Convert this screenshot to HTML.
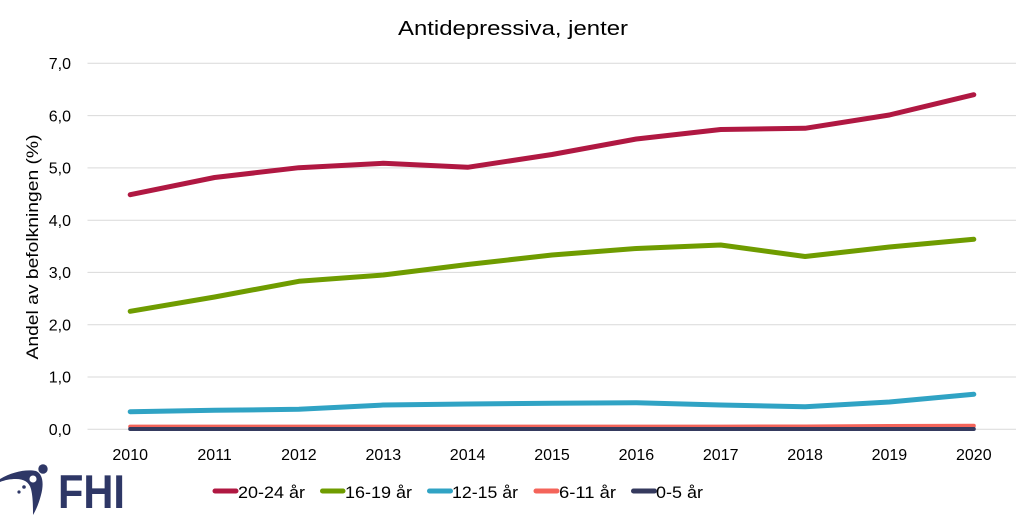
<!DOCTYPE html>
<html>
<head>
<meta charset="utf-8">
<style>
  html, body { margin:0; padding:0; background:#ffffff; }
  svg { display:block; }
  text { font-family: "Liberation Sans", "DejaVu Sans", sans-serif; fill:#000; }
</style>
</head>
<body>
<svg width="1032" height="519" viewBox="0 0 1032 519" xmlns="http://www.w3.org/2000/svg">
  <rect x="0" y="0" width="1032" height="519" fill="#ffffff"/>

  <!-- Title -->
  <text x="513" y="35" font-size="20" text-anchor="middle" textLength="230" lengthAdjust="spacingAndGlyphs">Antidepressiva, jenter</text>

  <!-- Gridlines -->
  <g stroke="#d9d9d9" stroke-width="1">
    <line x1="87.5" y1="63.3" x2="1016" y2="63.3"/>
    <line x1="87.5" y1="115.6" x2="1016" y2="115.6"/>
    <line x1="87.5" y1="167.9" x2="1016" y2="167.9"/>
    <line x1="87.5" y1="220.2" x2="1016" y2="220.2"/>
    <line x1="87.5" y1="272.4" x2="1016" y2="272.4"/>
    <line x1="87.5" y1="324.7" x2="1016" y2="324.7"/>
    <line x1="87.5" y1="377.0" x2="1016" y2="377.0"/>
    <line x1="87.5" y1="429.3" x2="1016" y2="429.3"/>
  </g>

  <!-- Y tick labels -->
  <g font-size="16" text-anchor="end">
    <text x="71" y="69">7,0</text>
    <text x="71" y="121.3">6,0</text>
    <text x="71" y="173.6">5,0</text>
    <text x="71" y="225.9">4,0</text>
    <text x="71" y="278.1">3,0</text>
    <text x="71" y="330.4">2,0</text>
    <text x="71" y="382.7">1,0</text>
    <text x="71" y="435">0,0</text>
  </g>

  <!-- Y axis title -->
  <text transform="translate(38,247) rotate(-90)" font-size="17" text-anchor="middle" textLength="225" lengthAdjust="spacingAndGlyphs">Andel av befolkningen (%)</text>

  <!-- X tick labels -->
  <g font-size="16" text-anchor="middle">
    <text x="130.2" y="460">2010</text>
    <text x="214.6" y="460">2011</text>
    <text x="298.9" y="460">2012</text>
    <text x="383.3" y="460">2013</text>
    <text x="467.6" y="460">2014</text>
    <text x="552.0" y="460">2015</text>
    <text x="636.4" y="460">2016</text>
    <text x="720.7" y="460">2017</text>
    <text x="805.1" y="460">2018</text>
    <text x="889.4" y="460">2019</text>
    <text x="973.8" y="460">2020</text>
  </g>

  <!-- Series -->
  <g fill="none" stroke-linecap="round" stroke-linejoin="round">
    <!-- 6-11 år -->
    <polyline stroke="#F4645A" stroke-width="4"
      points="130.2,426.6 214.6,426.6 298.9,426.6 383.3,426.6 467.6,426.6 552.0,426.6 636.4,426.6 720.7,426.6 805.1,426.5 889.4,426.0 973.8,425.8"/>
    <!-- 0-5 år -->
    <polyline stroke="#353A5E" stroke-width="4"
      points="130.2,429 214.6,429 298.9,429 383.3,429 467.6,429 552.0,429 636.4,429 720.7,429 805.1,429 889.4,429 973.8,429"/>
    <!-- 12-15 år -->
    <polyline stroke="#30A3C4" stroke-width="5"
      points="130.2,411.7 214.6,410.3 298.9,409.3 383.3,405 467.6,404 552.0,403.2 636.4,402.8 720.7,405 805.1,406.7 889.4,402 973.8,394.3"/>
    <!-- 16-19 år -->
    <polyline stroke="#6F9C00" stroke-width="5"
      points="130.2,311.3 214.6,297 298.9,281.3 383.3,275 467.6,264.5 552.0,255 636.4,248.5 720.7,245 805.1,256.5 889.4,247 973.8,239.3"/>
    <!-- 20-24 år -->
    <polyline stroke="#B01842" stroke-width="5"
      points="130.2,194.7 214.6,177.5 298.9,167.7 383.3,163.3 467.6,167.3 552.0,154.5 636.4,139 720.7,129.5 805.1,128.3 889.4,115 973.8,94.7"/>
  </g>

  <!-- Legend -->
  <g stroke-width="5" stroke-linecap="round">
    <line x1="215" y1="491" x2="236" y2="491" stroke="#B01842"/>
    <line x1="322.5" y1="491" x2="343" y2="491" stroke="#6F9C00"/>
    <line x1="429.5" y1="491" x2="450.5" y2="491" stroke="#30A3C4"/>
    <line x1="536" y1="491" x2="557" y2="491" stroke="#F4645A"/>
    <line x1="633.5" y1="491" x2="654.5" y2="491" stroke="#353A5E"/>
  </g>
  <g font-size="17">
    <text x="238" y="498" textLength="67" lengthAdjust="spacingAndGlyphs">20-24 år</text>
    <text x="345" y="498" textLength="67" lengthAdjust="spacingAndGlyphs">16-19 år</text>
    <text x="452" y="498" textLength="66" lengthAdjust="spacingAndGlyphs">12-15 år</text>
    <text x="559" y="498" textLength="57" lengthAdjust="spacingAndGlyphs">6-11 år</text>
    <text x="656" y="498" textLength="47" lengthAdjust="spacingAndGlyphs">0-5 år</text>
  </g>

  <!-- FHI logo -->
  <g fill="#2E3766">
    <path d="M0,479 C12,472 26,469 36,471 C43,474 44,484 41,495 C39,503 36,510 33,515 C33,507 33,497 31,489 C29,482 24,479 16,479 C10,479 5,480 0,482 Z"/>
    <circle cx="43" cy="469" r="4.7"/>
    <circle cx="33" cy="479" r="4.3" fill="#ffffff" stroke="#2E3766" stroke-width="1.5"/>
    <circle cx="24" cy="487" r="1.8"/>
    <circle cx="19" cy="492" r="1.6"/>
  </g>
  <text x="58" y="508" font-size="47" font-weight="bold" textLength="67" lengthAdjust="spacingAndGlyphs" style="fill:#2E3766">FHI</text>
</svg>
</body>
</html>
